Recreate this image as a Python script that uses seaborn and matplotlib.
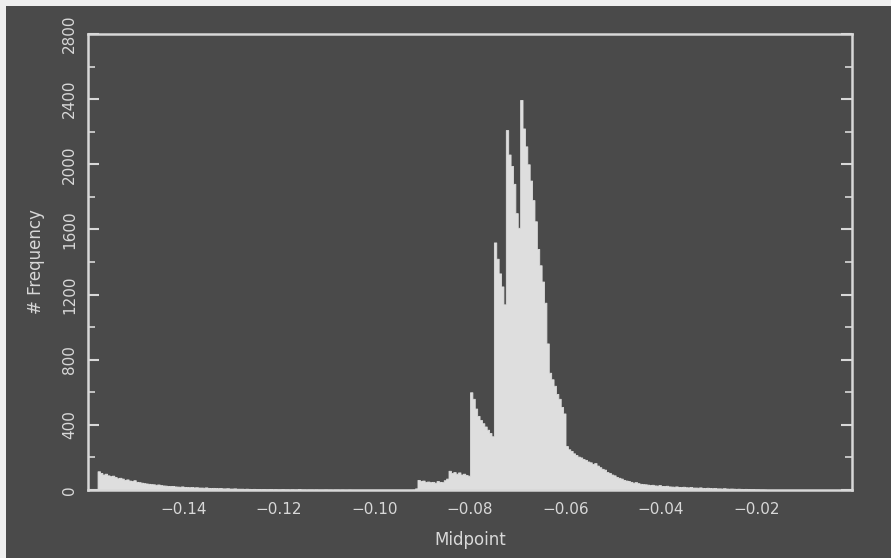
import matplotlib
matplotlib.use("Agg")
import matplotlib.pyplot as plt
import numpy as np
import pandas as pd
import seaborn as sns
from matplotlib.patches import Rectangle
from matplotlib.ticker import MultipleLocator

# histogram data: first bin edge, bin width, counts per bin
bin_start = -0.158
bin_width = 0.0005
frequency = [
    115, 105, 95, 100, 90, 85, 88, 80, 72, 75,          # -0.158
    70, 62, 65, 58, 55, 60, 50, 48, 45, 42,             # -0.153
    40, 38, 36, 35, 32, 34, 30, 28, 27, 25,             # -0.148
    24, 25, 22, 21, 20, 22, 19, 18, 17, 18,             # -0.143
    16, 17, 15, 15, 14, 16, 13, 12, 13, 12,             # -0.138
    11, 12, 10, 10, 11, 9, 9, 10, 8, 8,                 # -0.133
    8, 7, 8, 7, 6, 7, 6, 6, 5, 6,                       # -0.128
    5, 5, 6, 4, 5, 4, 4, 5, 4, 4,                       # -0.123
    3, 4, 3, 3, 6, 3, 3, 2, 3, 3,                       # -0.118
    2, 3, 2, 2, 2, 3, 2, 2, 1, 2,                       # -0.113
    2, 1, 2, 1, 1, 2, 1, 1, 1, 1,                       # -0.108
    1, 1, 1, 1, 1, 1, 1, 1, 1, 1,                       # -0.103
    1, 1, 1, 1, 1, 1, 1, 1, 1, 1,                       # -0.098
    1, 1, 2, 10, 62, 55, 58, 50, 52, 48,                # -0.093
    50, 45, 55, 50, 48, 60, 70, 118, 105, 110,          # -0.088
    100, 108, 95, 100, 92, 88, 600, 560, 500, 455,      # -0.083
    430, 410, 390, 370, 350, 330, 1520, 1420, 1330, 1250,   # -0.078
    1140, 2210, 2060, 1990, 1880, 1700, 1610, 2395, 2220, 2110,  # -0.073
    2000, 1900, 1780, 1650, 1480, 1380, 1280, 1150, 900, 720,    # -0.068
    680, 640, 590, 560, 510, 470, 270, 250, 240, 225,   # -0.063
    215, 205, 200, 190, 185, 175, 170, 160, 165, 150,   # -0.058
    140, 130, 125, 110, 105, 95, 90, 80, 75, 70,        # -0.053
    62, 58, 55, 50, 45, 48, 42, 38, 36, 35,             # -0.048
    33, 30, 32, 28, 27, 30, 25, 24, 26, 22,             # -0.043
    21, 20, 22, 19, 18, 20, 17, 16, 18, 15,             # -0.038
    15, 14, 16, 13, 12, 14, 12, 11, 12, 10,             # -0.033
    10, 9, 11, 9, 8, 9, 8, 7, 8, 7,                     # -0.028
    6, 7, 6, 5, 5, 4, 4, 3, 3, 2,                       # -0.023
]

x_ticks = [-0.14, -0.12, -0.10, -0.08, -0.06, -0.04, -0.02]
x_tick_labels = ["\u22120.14", "\u22120.12", "\u22120.10", "\u22120.08",
                 "\u22120.06", "\u22120.04", "\u22120.02"]
y_ticks = [0, 400, 800, 1200, 1600, 2000, 2400, 2800]

bg = "#4a4a4a"
fg = "#d8d8d8"
fill = "#dedede"

n_bins = len(frequency)
midpoints = [bin_start + (i + 0.5) * bin_width for i in range(n_bins)]
df = pd.DataFrame({"Midpoint": midpoints, "Frequency": frequency})

sns.set_style("dark")
plt.rcParams["font.family"] = ["DejaVu Sans"]

fig = plt.figure(figsize=(8.91, 5.58), dpi=100, facecolor="#efefef")
fig.patches.append(Rectangle((6 / 891, 0), 1, 1 - 6 / 558, transform=fig.transFigure,
                             facecolor=bg, edgecolor="none", zorder=-10))
ax = fig.add_axes([88 / 891, 68 / 558, 764 / 891, 456 / 558])
ax.set_facecolor(bg)

# step element draws one filled polygon, so no seams between bins
sns.histplot(data=df, x="Midpoint", weights="Frequency", bins=n_bins,
             binrange=(bin_start, bin_start + n_bins * bin_width),
             element="step", fill=True, color=fill, alpha=1, linewidth=0.6,
             edgecolor=fill, ax=ax)

ax.set_xlim(-0.16, 0.0)
ax.set_ylim(0, 2800)
ax.set_xticks(x_ticks)
ax.set_xticklabels(x_tick_labels)
ax.set_yticks(y_ticks)
ax.set_yticklabels([str(v) for v in y_ticks], rotation=90, va="center")
ax.yaxis.set_minor_locator(MultipleLocator(200))

ax.tick_params(axis="x", length=0, pad=9, labelsize=11, labelcolor=fg)
ax.tick_params(axis="y", which="major", direction="in", length=8, width=1.5,
               color=fg, left=True, right=True, labelsize=11, labelcolor=fg, pad=8)
ax.tick_params(axis="y", which="minor", direction="in", length=5, width=1.2,
               color=fg, left=True, right=True)

for s in ax.spines.values():
    s.set_visible(True)
    s.set_color(fg)
    s.set_linewidth(1.8)

ax.grid(False)
ax.set_xlabel("Midpoint", color=fg, fontsize=12, labelpad=10)
ax.set_ylabel("# Frequency", color=fg, fontsize=12, labelpad=12)

plt.savefig("out.png", dpi=100, facecolor=fig.get_facecolor())
